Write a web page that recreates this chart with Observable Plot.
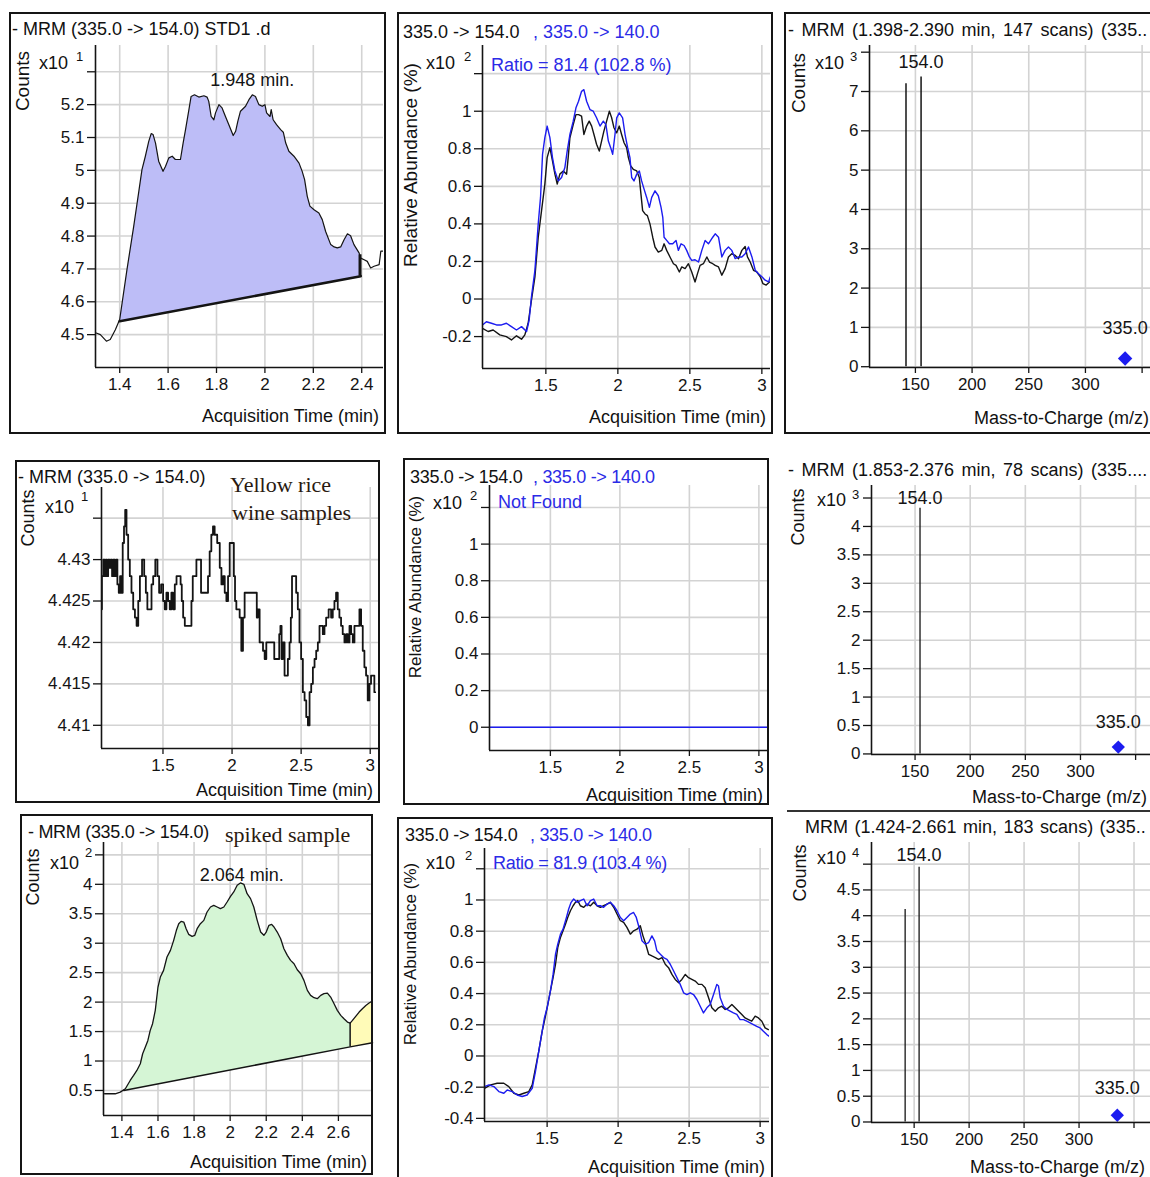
<!DOCTYPE html>
<html><head><meta charset="utf-8">
<script src="https://cdn.jsdelivr.net/npm/d3@7"></script>
<script src="https://cdn.jsdelivr.net/npm/@observablehq/plot@0.6"></script>
<style>
body{margin:0;background:#fff;}
#root{position:relative;width:1150px;height:1177px;overflow:hidden;font-family:"Liberation Sans",Arial,sans-serif;color:#111;background:#fff;}
.box{position:absolute;border:2px solid #151515;box-sizing:border-box;pointer-events:none;}
.hl{position:absolute;height:2px;background:#333;}
.t{position:absolute;white-space:nowrap;line-height:1;}
.serif{font-family:"Liberation Serif","DejaVu Serif",serif;color:#2a1a10;}
</style></head><body><div id="root"></div>
<script>
// ---------- DATA ----------
// Panel A: standard STD1 chromatogram (time min, counts x10^1)
const stdChrom = [[1.303,4.505],[1.320,4.500],[1.345,4.480],[1.361,4.485],[1.382,4.515],[1.400,4.546],[1.430,4.698],[1.458,4.830],[1.479,4.936],[1.492,5.002],[1.506,5.043],[1.520,5.088],[1.530,5.112],[1.538,5.109],[1.548,5.083],[1.561,5.028],[1.579,4.997],[1.589,5.012],[1.603,5.038],[1.617,5.043],[1.630,5.033],[1.651,5.033],[1.662,5.083],[1.672,5.124],[1.686,5.185],[1.695,5.225],[1.709,5.230],[1.727,5.223],[1.748,5.227],[1.761,5.223],[1.768,5.210],[1.778,5.164],[1.789,5.154],[1.796,5.175],[1.810,5.200],[1.823,5.190],[1.837,5.164],[1.851,5.139],[1.869,5.106],[1.879,5.119],[1.888,5.149],[1.899,5.180],[1.920,5.195],[1.934,5.215],[1.948,5.230],[1.961,5.225],[1.975,5.200],[1.989,5.195],[2.000,5.200],[2.007,5.175],[2.021,5.164],[2.026,5.185],[2.034,5.154],[2.048,5.139],[2.065,5.124],[2.076,5.116],[2.086,5.083],[2.099,5.058],[2.120,5.043],[2.141,5.022],[2.154,4.997],[2.164,4.972],[2.175,4.921],[2.186,4.891],[2.203,4.880],[2.223,4.870],[2.237,4.850],[2.251,4.814],[2.272,4.774],[2.286,4.767],[2.299,4.764],[2.313,4.767],[2.327,4.789],[2.341,4.807],[2.354,4.801],[2.368,4.774],[2.389,4.749],[2.396,4.733],[2.410,4.728],[2.423,4.723],[2.437,4.703],[2.451,4.708],[2.472,4.713],[2.479,4.754],[2.490,4.754]];
const stdBaseline = [[1.400,4.541],[2.396,4.678]];
const stdDrop = [[2.393,4.678,4.743]];
const stdPeak = [[1.948,5.230,"1.948 min."]];
const stdXTicks = [1.4,1.6,1.8,2,2.2,2.4];
const stdYTicks = [4.5,4.6,4.7,4.8,4.9,5,5.1,5.2,5.3];
const stdYLabels = ["4.5","4.6","4.7","4.8","4.9","5","5.1","5.2",""];

// Panel B: qualifier overlay, standard (relative abundance x10^2)
const stdQuant = [[1.060,-0.156],[1.099,-0.173],[1.134,-0.165],[1.180,-0.191],[1.226,-0.200],[1.261,-0.218],[1.296,-0.196],[1.331,-0.214],[1.354,-0.191],[1.377,-0.129],[1.400,-0.006],[1.424,0.118],[1.447,0.329],[1.470,0.471],[1.493,0.612],[1.509,0.753],[1.528,0.806],[1.546,0.735],[1.563,0.665],[1.579,0.612],[1.597,0.665],[1.621,0.682],[1.644,0.665],[1.655,0.753],[1.667,0.859],[1.690,0.929],[1.709,0.982],[1.727,0.982],[1.748,0.974],[1.764,0.876],[1.783,0.921],[1.801,0.947],[1.818,0.921],[1.834,0.876],[1.852,0.824],[1.871,0.788],[1.887,0.841],[1.903,0.894],[1.922,0.947],[1.941,1.000],[1.957,0.965],[1.973,0.912],[1.992,0.885],[2.010,0.921],[2.026,0.876],[2.043,0.832],[2.061,0.806],[2.073,0.753],[2.089,0.709],[2.107,0.691],[2.131,0.682],[2.149,0.647],[2.158,0.576],[2.172,0.471],[2.189,0.453],[2.205,0.444],[2.223,0.400],[2.242,0.329],[2.258,0.277],[2.281,0.250],[2.305,0.259],[2.321,0.294],[2.339,0.259],[2.362,0.224],[2.386,0.188],[2.404,0.179],[2.427,0.144],[2.444,0.171],[2.467,0.162],[2.490,0.188],[2.513,0.144],[2.536,0.091],[2.553,0.135],[2.571,0.179],[2.594,0.188],[2.618,0.224],[2.636,0.197],[2.659,0.188],[2.676,0.179],[2.699,0.171],[2.722,0.127],[2.745,0.162],[2.768,0.224],[2.791,0.241],[2.815,0.232],[2.838,0.215],[2.861,0.259],[2.884,0.280],[2.900,0.224],[2.919,0.197],[2.942,0.153],[2.965,0.144],[2.989,0.118],[3.007,0.082],[3.030,0.074],[3.053,0.091]];
const stdQual = [[1.060,-0.138],[1.087,-0.121],[1.122,-0.129],[1.157,-0.138],[1.192,-0.138],[1.226,-0.129],[1.261,-0.147],[1.296,-0.165],[1.331,-0.147],[1.366,-0.173],[1.384,-0.112],[1.400,0.012],[1.424,0.153],[1.447,0.400],[1.463,0.541],[1.477,0.771],[1.493,0.859],[1.509,0.921],[1.528,0.859],[1.546,0.753],[1.563,0.682],[1.586,0.629],[1.609,0.647],[1.632,0.700],[1.648,0.788],[1.667,0.876],[1.690,0.947],[1.709,1.018],[1.727,1.053],[1.748,1.106],[1.764,1.115],[1.783,1.053],[1.806,1.009],[1.829,1.000],[1.852,0.965],[1.876,0.921],[1.899,0.947],[1.917,0.929],[1.934,0.841],[1.950,0.806],[1.964,0.771],[1.980,0.876],[1.992,0.965],[2.010,0.991],[2.033,0.965],[2.050,0.876],[2.068,0.806],[2.084,0.753],[2.096,0.647],[2.112,0.629],[2.131,0.665],[2.149,0.682],[2.165,0.629],[2.182,0.585],[2.200,0.541],[2.219,0.488],[2.235,0.541],[2.258,0.576],[2.281,0.550],[2.300,0.488],[2.312,0.435],[2.321,0.329],[2.339,0.312],[2.358,0.294],[2.381,0.294],[2.404,0.312],[2.420,0.259],[2.439,0.294],[2.460,0.285],[2.478,0.259],[2.497,0.224],[2.513,0.206],[2.536,0.209],[2.560,0.197],[2.583,0.259],[2.606,0.312],[2.629,0.294],[2.659,0.329],[2.676,0.347],[2.699,0.329],[2.722,0.224],[2.745,0.259],[2.768,0.277],[2.791,0.259],[2.815,0.215],[2.838,0.224],[2.861,0.224],[2.884,0.241],[2.907,0.277],[2.931,0.224],[2.954,0.153],[2.977,0.135],[3.000,0.118],[3.023,0.100],[3.047,0.091],[3.058,0.118]];
const relXTicks = [1.5,2,2.5,3];
const relYTicksB = [-0.2,0,0.2,0.4,0.6,0.8,1,1.2];
const relYLabelsB = ["-0.2","0","0.2","0.4","0.6","0.8","1",""];

// Panel C: standard spectrum (m/z, counts x10^3)
const stdSpec = [[141.7,7.20,""],[155.0,7.37,"154.0"]];
const stdPrec = [[335.0,0.21,"335.0"]];
const mzTicks = [150,200,250,300,350];
const mzLabels = ["150","200","250","300",""];
const specYTicksC = [0,1,2,3,4,5,6,7,8];
const specYLabelsC = ["0","1","2","3","4","5","6","7",""];

// Panel D: yellow rice wine sample (counts x10^1)
const wineChrom = [[1.054,4.424],[1.062,4.428],[1.074,4.430],[1.081,4.428],[1.091,4.430],[1.098,4.428],[1.108,4.430],[1.117,4.429],[1.127,4.430],[1.136,4.428],[1.146,4.430],[1.156,4.428],[1.165,4.430],[1.175,4.427],[1.185,4.426],[1.194,4.428],[1.204,4.426],[1.213,4.432],[1.223,4.434],[1.230,4.436],[1.242,4.433],[1.254,4.430],[1.266,4.428],[1.278,4.426],[1.291,4.424],[1.303,4.423],[1.315,4.422],[1.327,4.425],[1.339,4.428],[1.358,4.430],[1.370,4.428],[1.382,4.426],[1.392,4.424],[1.411,4.424],[1.423,4.427],[1.435,4.428],[1.454,4.430],[1.466,4.428],[1.478,4.426],[1.495,4.427],[1.507,4.425],[1.519,4.424],[1.531,4.426],[1.543,4.425],[1.555,4.424],[1.567,4.426],[1.579,4.424],[1.592,4.427],[1.604,4.428],[1.623,4.428],[1.632,4.427],[1.640,4.425],[1.652,4.423],[1.664,4.422],[1.700,4.422],[1.712,4.425],[1.719,4.428],[1.736,4.428],[1.748,4.430],[1.772,4.430],[1.779,4.426],[1.820,4.426],[1.832,4.428],[1.844,4.431],[1.856,4.433],[1.868,4.434],[1.880,4.433],[1.905,4.432],[1.917,4.429],[1.929,4.427],[1.941,4.428],[1.953,4.426],[1.965,4.425],[1.977,4.428],[1.989,4.432],[2.008,4.432],[2.018,4.428],[2.025,4.425],[2.037,4.424],[2.049,4.424],[2.061,4.423],[2.073,4.419],[2.085,4.423],[2.097,4.426],[2.177,4.426],[2.181,4.423],[2.193,4.424],[2.206,4.420],[2.218,4.420],[2.230,4.419],[2.242,4.418],[2.254,4.420],[2.302,4.420],[2.309,4.418],[2.338,4.418],[2.345,4.421],[2.355,4.422],[2.362,4.418],[2.374,4.420],[2.386,4.416],[2.398,4.416],[2.410,4.418],[2.422,4.420],[2.429,4.423],[2.439,4.428],[2.458,4.428],[2.470,4.426],[2.482,4.424],[2.494,4.420],[2.506,4.418],[2.519,4.414],[2.531,4.413],[2.543,4.411],[2.555,4.410],[2.567,4.414],[2.579,4.415],[2.591,4.417],[2.603,4.418],[2.615,4.419],[2.627,4.420],[2.639,4.422],[2.651,4.422],[2.663,4.421],[2.675,4.422],[2.687,4.423],[2.711,4.424],[2.723,4.423],[2.735,4.424],[2.747,4.425],[2.759,4.426],[2.771,4.424],[2.783,4.423],[2.795,4.422],[2.807,4.421],[2.820,4.420],[2.832,4.421],[2.844,4.420],[2.856,4.422],[2.868,4.421],[2.880,4.420],[2.892,4.422],[2.916,4.422],[2.928,4.424],[2.940,4.422],[2.952,4.419],[2.964,4.417],[2.976,4.416],[2.988,4.413],[3.000,4.415],[3.012,4.416],[3.024,4.416],[3.036,4.414]];
const wineYTicks = [4.41,4.415,4.42,4.425,4.43,4.435];
const wineYLabels = ["4.41","4.415","4.42","4.425","4.43",""];

// Panel E: sample qualifier (not found)
const wineQual = [[1.062,0],[3.062,0]];
const relYTicksE = [0,0.2,0.4,0.6,0.8,1,1.2];
const relYLabelsE = ["0","0.2","0.4","0.6","0.8","1",""];

// Panel F: sample spectrum (counts x10^3)
const wineSpec = [[154.5,4.32,"154.0"]];
const winePrec = [[334.3,0.12,"335.0"]];
const specYTicksF = [0,0.5,1,1.5,2,2.5,3,3.5,4,4.5];
const specYLabelsF = ["0","0.5","1","1.5","2","2.5","3","3.5","4",""];

// Panel G: spiked sample chromatogram (counts x10^2)
const spikeChrom = [[1.304,0.444],[1.363,0.444],[1.391,0.472],[1.419,0.529],[1.446,0.670],[1.465,0.755],[1.483,0.840],[1.502,0.954],[1.515,1.123],[1.530,1.237],[1.544,1.350],[1.557,1.520],[1.570,1.633],[1.585,1.860],[1.600,2.256],[1.613,2.426],[1.631,2.539],[1.650,2.766],[1.669,2.879],[1.687,3.049],[1.702,3.219],[1.715,3.332],[1.728,3.371],[1.743,3.360],[1.756,3.247],[1.770,3.151],[1.789,3.117],[1.804,3.134],[1.817,3.247],[1.835,3.332],[1.854,3.388],[1.872,3.530],[1.891,3.615],[1.909,3.643],[1.928,3.615],[1.946,3.587],[1.965,3.615],[1.983,3.700],[2.002,3.796],[2.020,3.870],[2.039,3.983],[2.057,4.023],[2.076,4.000],[2.094,3.841],[2.113,3.757],[2.131,3.615],[2.150,3.388],[2.169,3.190],[2.187,3.134],[2.200,3.190],[2.215,3.304],[2.230,3.320],[2.243,3.275],[2.261,3.190],[2.280,3.077],[2.298,2.907],[2.317,2.794],[2.335,2.709],[2.354,2.652],[2.372,2.550],[2.391,2.482],[2.409,2.369],[2.428,2.199],[2.446,2.114],[2.465,2.075],[2.483,2.058],[2.502,2.114],[2.520,2.143],[2.539,2.154],[2.557,2.086],[2.576,1.973],[2.594,1.860],[2.613,1.775],[2.631,1.718],[2.650,1.661],[2.665,1.644],[2.678,1.690],[2.696,1.758],[2.715,1.831],[2.733,1.888],[2.752,1.944],[2.770,1.984],[2.789,2.020]];
const spikeBaseline = [[1.41,0.50],[2.665,1.24],[2.789,1.31]];
const spikeDrop = [[2.665,1.24,1.644]];
const spikePeak = [[2.064,4.023,"2.064 min."]];
const spikeXTicks = [1.4,1.6,1.8,2,2.2,2.4,2.6];
const spikeYTicks = [0.5,1,1.5,2,2.5,3,3.5,4,4.5];
const spikeYLabels = ["0.5","1","1.5","2","2.5","3","3.5","4",""];

// Panel H: spiked sample qualifier overlay
const spikeQuant = [[1.059,-0.207],[1.102,-0.185],[1.148,-0.175],[1.195,-0.175],[1.230,-0.196],[1.266,-0.239],[1.301,-0.250],[1.336,-0.239],[1.371,-0.228],[1.395,-0.185],[1.418,-0.078],[1.441,0.029],[1.465,0.158],[1.481,0.223],[1.500,0.309],[1.523,0.416],[1.542,0.502],[1.559,0.588],[1.575,0.695],[1.594,0.760],[1.612,0.802],[1.629,0.845],[1.645,0.888],[1.664,0.931],[1.683,0.963],[1.699,0.985],[1.716,0.996],[1.734,0.963],[1.758,0.953],[1.781,0.974],[1.805,0.963],[1.828,0.985],[1.852,0.963],[1.875,0.953],[1.898,0.963],[1.922,0.974],[1.945,0.985],[1.969,0.953],[1.992,0.910],[2.016,0.867],[2.039,0.856],[2.062,0.824],[2.086,0.781],[2.109,0.802],[2.133,0.813],[2.156,0.835],[2.175,0.770],[2.191,0.727],[2.215,0.652],[2.238,0.641],[2.262,0.631],[2.285,0.620],[2.309,0.631],[2.332,0.588],[2.355,0.566],[2.379,0.523],[2.402,0.491],[2.426,0.470],[2.449,0.491],[2.473,0.523],[2.496,0.502],[2.519,0.491],[2.543,0.480],[2.566,0.459],[2.590,0.459],[2.613,0.437],[2.637,0.373],[2.660,0.309],[2.684,0.287],[2.707,0.309],[2.730,0.319],[2.754,0.298],[2.777,0.309],[2.801,0.330],[2.824,0.309],[2.848,0.287],[2.871,0.266],[2.894,0.244],[2.918,0.233],[2.941,0.223],[2.965,0.255],[2.988,0.244],[3.012,0.223],[3.035,0.180],[3.058,0.169]];
const spikeQual = [[1.059,-0.196],[1.090,-0.185],[1.125,-0.196],[1.160,-0.228],[1.195,-0.239],[1.219,-0.218],[1.254,-0.228],[1.289,-0.250],[1.324,-0.260],[1.359,-0.250],[1.395,-0.207],[1.418,-0.099],[1.441,0.029],[1.465,0.158],[1.481,0.244],[1.500,0.309],[1.523,0.416],[1.542,0.523],[1.559,0.652],[1.575,0.717],[1.594,0.781],[1.612,0.813],[1.636,0.888],[1.652,0.942],[1.669,0.985],[1.687,1.006],[1.711,0.985],[1.734,0.996],[1.758,1.006],[1.781,0.963],[1.805,0.996],[1.828,1.006],[1.852,0.963],[1.875,0.963],[1.898,0.953],[1.922,0.974],[1.945,0.985],[1.969,0.963],[1.992,0.931],[2.016,0.888],[2.039,0.867],[2.062,0.888],[2.086,0.910],[2.109,0.920],[2.128,0.888],[2.144,0.835],[2.168,0.738],[2.191,0.717],[2.215,0.727],[2.238,0.770],[2.257,0.738],[2.273,0.674],[2.297,0.652],[2.320,0.631],[2.344,0.620],[2.367,0.588],[2.391,0.545],[2.414,0.502],[2.437,0.459],[2.461,0.405],[2.484,0.394],[2.508,0.405],[2.531,0.394],[2.555,0.362],[2.578,0.319],[2.601,0.276],[2.625,0.309],[2.648,0.330],[2.672,0.394],[2.695,0.459],[2.707,0.448],[2.719,0.373],[2.742,0.319],[2.766,0.298],[2.789,0.287],[2.812,0.276],[2.836,0.266],[2.859,0.233],[2.883,0.233],[2.906,0.223],[2.930,0.212],[2.953,0.201],[2.976,0.190],[3.000,0.180],[3.023,0.158],[3.047,0.137],[3.065,0.126]];
const relYTicksH = [-0.4,-0.2,0,0.2,0.4,0.6,0.8,1,1.2];
const relYLabelsH = ["-0.4","-0.2","0","0.2","0.4","0.6","0.8","1",""];

// Panel I: spiked sample spectrum (counts x10^4)
const spikeSpec = [[141.8,4.12,""],[154.5,4.94,"154.0"]];
const spikePrec = [[334.8,0.13,"335.0"]];
const specYTicksI = [0,0.5,1,1.5,2,2.5,3,3.5,4,4.5,5];
const specYLabelsI = ["0","0.5","1","1.5","2","2.5","3","3.5","4","4.5",""];

// ---------- RENDER ----------
const root = document.getElementById("root");
const BLUE = "#1c1cf0", BLUETXT = "#2b2be6", GRID = "#d3d3d3", INK = "#141414";
const pts = a => a.map(([t, v]) => ({t, v}));
const fmt = (ticks, labels) => { const m = new Map(ticks.map((d, i) => [d, labels[i]])); return d => m.get(d) ?? ""; };

function panel(c) {
  const marks = [
    Plot.gridX(c.xTicks, {stroke: GRID, strokeOpacity: 1, strokeWidth: 1.6}),
    Plot.gridY(c.yTicks, {stroke: GRID, strokeOpacity: 1, strokeWidth: 1.6}),
    ...c.marks,
    Plot.ruleX([c.x[0]], {stroke: INK, strokeWidth: 1.6}),
    Plot.ruleY([c.y[0]], {stroke: INK, strokeWidth: 1.6}),
    Plot.axisX(c.xTicks, {tickSize: 6, tickPadding: 4, fontSize: c.fs || 17, tickFormat: c.xFmt || (d => String(d)), label: null, stroke: INK, strokeWidth: 1.3}),
    Plot.axisY(c.yTicks, {tickSize: 8, tickPadding: 3, fontSize: c.fs || 17, tickFormat: c.yFmt, label: null, stroke: INK, strokeWidth: 1.3})
  ];
  const svg = Plot.plot({
    width: c.w, height: c.h,
    marginLeft: c.m[0], marginRight: c.m[1], marginTop: c.m[2], marginBottom: c.m[3],
    x: {domain: c.x}, y: {domain: c.y},
    style: {background: "transparent", color: INK, fontFamily: "'Liberation Sans', Arial, sans-serif", overflow: "visible"},
    marks
  });
  svg.style.position = "absolute";
  svg.style.left = c.left + "px";
  svg.style.top = c.top + "px";
  svg.style.maxWidth = "none";
  root.appendChild(svg);
}

function txt(s, x, y, o = {}) {
  const d = document.createElement("div");
  d.className = "t " + (o.cls || "");
  d.textContent = s;
  d.style.left = x + "px"; d.style.top = y + "px";
  d.style.fontSize = (o.size || 18) + "px";
  const ax = o.anchor === "end" ? "-100%" : o.anchor === "middle" ? "-50%" : "0";
  d.style.transform = `translate(${ax},-50%)` + (o.rot ? " rotate(-90deg)" : "");
  if (o.color) d.style.color = o.color;
  if (o.ls) d.style.letterSpacing = o.ls;
  if (o.ws) d.style.wordSpacing = o.ws;
  root.appendChild(d);
}
function box(l, t, w, h) {
  const d = document.createElement("div");
  d.className = "box";
  Object.assign(d.style, {left: l + "px", top: t + "px", width: w + "px", height: h + "px"});
  root.appendChild(d);
}
function hline(l, t, w) {
  const d = document.createElement("div");
  d.className = "hl";
  Object.assign(d.style, {left: l + "px", top: t + "px", width: w + "px"});
  root.appendChild(d);
}

// integrated peak polygon: curve segment closed along its baseline
const peakPoly = (curve, base, from, to) =>
  pts(curve.filter(([t]) => t >= from && t <= to)).concat(pts(base.filter(([t]) => t >= from && t <= to)).reverse());

// Panel A
panel({left: 9, top: 13, w: 377, h: 421, m: [86, 3, 32, 67], x: [1.30, 2.49], y: [4.40, 5.38],
  xTicks: stdXTicks, yTicks: stdYTicks, yFmt: fmt(stdYTicks, stdYLabels),
  marks: [
    Plot.line(peakPoly(stdChrom, stdBaseline, 1.4, 2.396), {x: "t", y: "v", fill: "#bdbdf7", stroke: "none"}),
    Plot.line(pts(stdBaseline), {x: "t", y: "v", stroke: INK, strokeWidth: 2.6}),
    Plot.ruleX(stdDrop, {x: d => d[0], y1: d => d[1], y2: d => d[2], stroke: INK, strokeWidth: 3}),
    Plot.line(pts(stdChrom), {x: "t", y: "v", stroke: INK, strokeWidth: 1.2, clip: true}),
    Plot.text(stdPeak, {x: d => d[0], y: d => d[1], text: d => d[2], dy: -15, fontSize: 18, fill: INK})
  ]});
// Panel B
panel({left: 397, top: 13, w: 376, h: 421, m: [85, 3, 32, 66], x: [1.06, 3.06], y: [-0.37, 1.35],
  xTicks: relXTicks, yTicks: relYTicksB, yFmt: fmt(relYTicksB, relYLabelsB),
  marks: [
    Plot.line(pts(stdQuant), {x: "t", y: "v", stroke: INK, strokeWidth: 1.4, clip: true}),
    Plot.line(pts(stdQual), {x: "t", y: "v", stroke: BLUE, strokeWidth: 1.4, clip: true})
  ]});
// Panel C
panel({left: 785, top: 13, w: 365, h: 421, m: [84, 0, 32, 67], x: [109.5, 357.4], y: [-0.02, 8.17],
  xTicks: mzTicks, xFmt: fmt(mzTicks, mzLabels), yTicks: specYTicksC, yFmt: fmt(specYTicksC, specYLabelsC),
  marks: [
    Plot.ruleX(stdSpec, {x: d => d[0], y1: 0, y2: d => d[1], stroke: INK, strokeWidth: 1.5}),
    Plot.text(stdSpec, {x: d => d[0], y: d => d[1], text: d => d[2], dy: -15, fontSize: 18, fill: INK}),
    Plot.dot(stdPrec, {x: d => d[0], y: d => d[1], symbol: "diamond2", r: 6.5, fill: BLUE, stroke: "none"}),
    Plot.text(stdPrec, {x: d => d[0], y: d => d[1], text: d => d[2], dy: -30, fontSize: 18, fill: INK})
  ]});
// Panel D
panel({left: 15, top: 460, w: 365, h: 343, m: [86, 2, 27, 55], x: [1.055, 3.06], y: [4.4072, 4.4387],
  xTicks: relXTicks, yTicks: wineYTicks, yFmt: fmt(wineYTicks, wineYLabels),
  marks: [
    Plot.line(pts(wineChrom), {x: "t", y: "v", curve: "step", stroke: INK, strokeWidth: 1.8, clip: true})
  ]});
// Panel E
panel({left: 403, top: 458, w: 366, h: 347, m: [86, 2, 27, 55], x: [1.062, 3.062], y: [-0.127, 1.32],
  xTicks: relXTicks, yTicks: relYTicksE, yFmt: fmt(relYTicksE, relYLabelsE),
  marks: [
    Plot.line(pts(wineQual), {x: "t", y: "v", stroke: BLUE, strokeWidth: 1.6})
  ]});
// Panel F
panel({left: 785, top: 458, w: 365, h: 347, m: [86, 0, 27, 51], x: [110.5, 363.5], y: [-0.01, 4.72],
  xTicks: mzTicks, xFmt: fmt(mzTicks, mzLabels), yTicks: specYTicksF, yFmt: fmt(specYTicksF, specYLabelsF),
  marks: [
    Plot.ruleX(wineSpec, {x: d => d[0], y1: 0, y2: d => d[1], stroke: INK, strokeWidth: 1.3}),
    Plot.text(wineSpec, {x: d => d[0], y: d => d[1], text: d => d[2], dy: -10, fontSize: 18, fill: INK}),
    Plot.dot(winePrec, {x: d => d[0], y: d => d[1], symbol: "diamond2", r: 6, fill: BLUE, stroke: "none"}),
    Plot.text(winePrec, {x: d => d[0], y: d => d[1], text: d => d[2], dy: -25, fontSize: 18, fill: INK})
  ]});
// Panel G
panel({left: 20, top: 814, w: 353, h: 361, m: [83, 1, 28, 60], x: [1.298, 2.789], y: [0.075, 4.71],
  xTicks: spikeXTicks, yTicks: spikeYTicks, yFmt: fmt(spikeYTicks, spikeYLabels),
  marks: [
    Plot.line(peakPoly(spikeChrom, spikeBaseline, 1.41, 2.665), {x: "t", y: "v", fill: "#d5f5d5", stroke: "none"}),
    Plot.line(peakPoly(spikeChrom, spikeBaseline, 2.665, 2.79), {x: "t", y: "v", fill: "#fffbb8", stroke: "none"}),
    Plot.line(pts(spikeBaseline), {x: "t", y: "v", stroke: INK, strokeWidth: 1.5}),
    Plot.ruleX(spikeDrop, {x: d => d[0], y1: d => d[1], y2: d => d[2], stroke: INK, strokeWidth: 1.5}),
    Plot.line(pts(spikeChrom), {x: "t", y: "v", stroke: INK, strokeWidth: 1.3, clip: true}),
    Plot.text(spikePeak, {x: d => d[0], y: d => d[1], text: d => d[2], dy: -8, fontSize: 18, fill: INK})
  ]});
// Panel H
panel({left: 397, top: 817, w: 376, h: 360, m: [87, 4, 31, 56], x: [1.059, 3.066], y: [-0.42, 1.33],
  xTicks: relXTicks, yTicks: relYTicksH, yFmt: fmt(relYTicksH, relYLabelsH),
  marks: [
    Plot.line(pts(spikeQuant), {x: "t", y: "v", stroke: INK, strokeWidth: 1.4, clip: true}),
    Plot.line(pts(spikeQual), {x: "t", y: "v", stroke: BLUE, strokeWidth: 1.4, clip: true})
  ]});
// Panel I
panel({left: 785, top: 815, w: 365, h: 362, m: [86, 0, 27, 55], x: [111.2, 365], y: [-0.01, 5.42],
  xTicks: mzTicks, xFmt: fmt(mzTicks, mzLabels), yTicks: specYTicksI, yFmt: fmt(specYTicksI, specYLabelsI),
  marks: [
    Plot.ruleX(spikeSpec, {x: d => d[0], y1: 0, y2: d => d[1], stroke: INK, strokeWidth: 1.3}),
    Plot.text(spikeSpec, {x: d => d[0], y: d => d[1], text: d => d[2], dy: -12, fontSize: 18, fill: INK}),
    Plot.dot(spikePrec, {x: d => d[0], y: d => d[1], symbol: "diamond2", r: 6, fill: BLUE, stroke: "none"}),
    Plot.text(spikePrec, {x: d => d[0], y: d => d[1], text: d => d[2], dy: -27, fontSize: 18, fill: INK})
  ]});

// ---------- TEXT ----------
// A
txt("- MRM (335.0 -> 154.0) STD1 .d", 12, 29);
txt("Counts", 22, 81, {rot: true, anchor: "middle", size: 19});
txt("x10", 39, 63); txt("1", 76, 56, {size: 13});
txt("Acquisition Time (min)", 379, 416, {anchor: "end"});
// B
txt("335.0 -> 154.0", 403, 32);
txt(", 335.0 -> 140.0", 533, 32, {color: BLUETXT});
txt("x10", 426, 63); txt("2", 464, 56, {size: 13});
txt("Ratio = 81.4 (102.8 %)", 491, 65, {color: BLUETXT});
txt("Relative Abundance (%)", 410, 165, {rot: true, anchor: "middle", size: 19});
txt("Acquisition Time (min)", 766, 417, {anchor: "end"});
// C
txt("- MRM (1.398-2.390 min, 147 scans) (335..", 788, 30, {ws: "2.5px"});
txt("Counts", 798, 83, {rot: true, anchor: "middle", size: 19});
txt("x10", 815, 63); txt("3", 850, 56, {size: 13});
txt("Mass-to-Charge (m/z)", 1149, 418, {anchor: "end"});
// D
txt("- MRM (335.0 -> 154.0)", 18, 477);
txt("Yellow rice", 230, 485, {cls: "serif", size: 22});
txt("wine samples", 232, 513, {cls: "serif", size: 22});
txt("Counts", 28, 518, {rot: true, anchor: "middle", size: 18});
txt("x10", 45, 507); txt("1", 81, 496, {size: 13});
txt("Acquisition Time (min)", 373, 790, {anchor: "end"});
// E
txt("335.0 -> 154.0", 410, 477, {ls: "-0.3px"});
txt(", 335.0 -> 140.0", 533, 477, {color: BLUETXT, ls: "-0.3px"});
txt("x10", 433, 503); txt("2", 470, 495, {size: 13});
txt("Not Found", 498, 502, {color: BLUETXT});
txt("Relative Abundance (%)", 415, 587, {rot: true, anchor: "middle", size: 17});
txt("Acquisition Time (min)", 763, 795, {anchor: "end"});
// F
txt("- MRM (1.853-2.376 min, 78 scans) (335....", 788, 470, {ws: "2.5px"});
txt("Counts", 798, 517, {rot: true, anchor: "middle", size: 18});
txt("x10", 817, 500); txt("3", 852, 494, {size: 13});
txt("Mass-to-Charge (m/z)", 1147, 797, {anchor: "end"});
// G
txt("- MRM (335.0 -> 154.0)", 28, 832, {ls: "-0.3px"});
txt("spiked sample", 225, 835, {cls: "serif", size: 22});
txt("Counts", 33, 877, {rot: true, anchor: "middle", size: 18});
txt("x10", 50, 863); txt("2", 85, 852, {size: 13});
txt("Acquisition Time (min)", 367, 1162, {anchor: "end"});
// H
txt("335.0 -> 154.0", 405, 835, {ls: "-0.3px"});
txt(", 335.0 -> 140.0", 530, 835, {color: BLUETXT, ls: "-0.3px"});
txt("x10", 426, 863); txt("2", 465, 855, {size: 13});
txt("Ratio = 81.9 (103.4 %)", 493, 863, {color: BLUETXT, ls: "-0.3px"});
txt("Relative Abundance (%)", 410, 954, {rot: true, anchor: "middle", size: 17});
txt("Acquisition Time (min)", 765, 1167, {anchor: "end"});
// I
txt("MRM (1.424-2.661 min, 183 scans) (335..", 805, 827, {ws: "1.5px"});
txt("Counts", 800, 873, {rot: true, anchor: "middle", size: 18});
txt("x10", 817, 858); txt("4", 852, 852, {size: 13});
txt("Mass-to-Charge (m/z)", 1145, 1167, {anchor: "end"});

// ---------- BORDERS ----------
box(9, 12, 377, 422);
box(397, 12, 376, 422);
box(784, 12, 380, 422);
box(15, 460, 365, 343);
box(403, 458, 366, 347);
box(20, 814, 353, 361);
box(397, 817, 376, 370);
hline(787, 810, 363);
</script></body></html>
